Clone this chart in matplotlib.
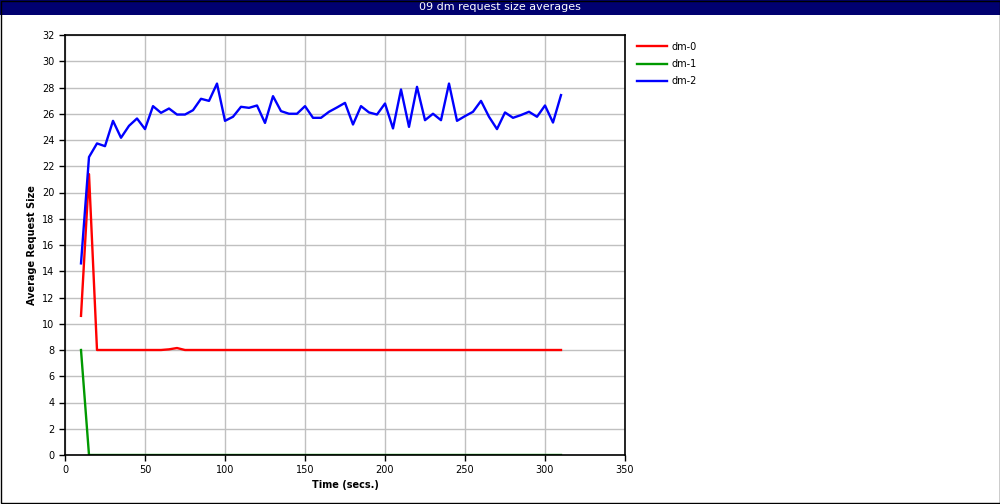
import numpy as np
import matplotlib

matplotlib.use("Agg")
import matplotlib.pyplot as plt
from matplotlib.patches import Rectangle

plt.rcParams["font.family"] = ["DejaVu Sans"]

times = list(range(10, 315, 5))

dm0 = [10.6, 21.4] + [8.0] * 9 + [8.05, 8.15, 8.0] + [8.0] * 47
dm1 = [8.0] + [0.0] * 60
dm2 = [14.6, 22.7, 23.74, 23.53, 25.46, 24.17, 25.08, 25.64, 24.83, 26.58,
       26.07, 26.4, 25.94, 25.94, 26.27, 27.14, 26.98, 28.3, 25.46, 25.77,
       26.53, 26.45, 26.63, 25.3, 27.34, 26.2, 26.0, 26.0, 26.58, 25.69,
       25.69, 26.15, 26.48, 26.83, 25.18, 26.58, 26.1, 25.94, 26.78, 24.88,
       27.85, 25.0, 28.05, 25.51, 26.0, 25.51, 28.3, 25.46, 25.82, 26.15,
       26.98, 25.77, 24.83, 26.1, 25.69, 25.9, 26.15, 25.77, 26.63, 25.33,
       27.42]

series = [("dm-0", dm0, "#ff0000"), ("dm-1", dm1, "#009900"), ("dm-2", dm2, "#0000ff")]

fig = plt.figure(figsize=(10, 5.04), dpi=100)
fig.patch.set_facecolor("white")

# title bar and outer border
fig.patches.append(Rectangle((0, 1 - 15 / 504), 1, 15 / 504, transform=fig.transFigure,
                             facecolor="#000070", edgecolor="none", zorder=0))
fig.patches.append(Rectangle((0.0005, 0.001), 0.999, 0.998, transform=fig.transFigure,
                             facecolor="none", edgecolor="black", linewidth=1.0, zorder=5))
fig.text(0.5, 1 - 7.5 / 504, "09 dm request size averages", color="white",
         ha="center", va="center", fontsize=8)

ax = fig.add_axes([0.065, 49 / 504, 0.56, 420 / 504])
for name, vals, col in series:
    ax.plot(times, vals, color=col, linewidth=1.7, label=name)

ax.set_xlim(0, 350)
ax.set_ylim(0, 32)
ax.set_xticks(np.arange(0, 351, 50))
ax.set_yticks(np.arange(0, 33, 2))
ax.tick_params(labelsize=7, length=4, width=1, direction="out")
ax.grid(True, color="#c0c0c0", linewidth=1)
ax.set_axisbelow(True)
for s in ax.spines.values():
    s.set_linewidth(1.2)
ax.set_xlabel("Time (secs.)", fontsize=7, fontweight="bold", labelpad=3)
ax.set_ylabel("Average Request Size", fontsize=7, fontweight="bold", labelpad=4)

ax.legend(loc="upper left", bbox_to_anchor=(1.01, 1.0), frameon=False, fontsize=7,
          handlelength=3, labelspacing=0.75, borderaxespad=0.3, handletextpad=0.5)

plt.savefig("out.png", dpi=100)
